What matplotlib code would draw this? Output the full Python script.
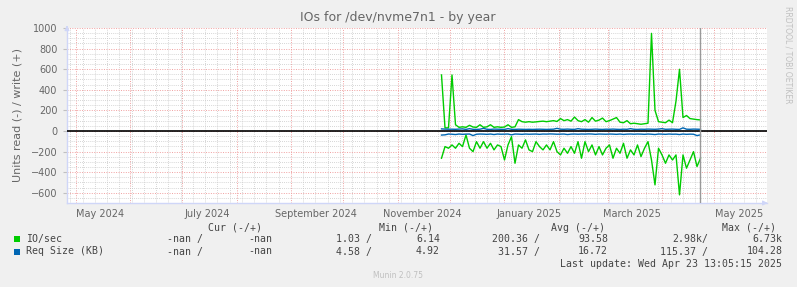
import numpy as np
import pandas as pd
import matplotlib
matplotlib.use('Agg')
import matplotlib.pyplot as plt
import matplotlib.dates as mdates

# munin "by year" graph for /dev/nvme7n1, one sample every 2 days
dates = pd.date_range(start='2024-11-26', periods=75, freq='2D')

io_write = [544, 30, 30, 544, 60, 35, 40, 35, 55, 38, 35, 60, 35, 40, 60, 35, 40, 35, 38,
            60, 35, 40, 110, 90, 85, 90, 85, 88, 92, 95, 90, 95, 100, 92, 120, 100, 110,
            95, 135, 100, 90, 110, 85, 130, 95, 105, 125, 90, 100, 115, 130, 85, 80, 100,
            70, 75, 70, 65, 70, 75, 948, 200, 90, 85, 80, 105, 80, 290, 599, 130, 150, 120,
            115, 110, 107]
io_read = [-265, -152, -168, -136, -168, -120, -152, -39, -168, -201, -104, -168, -104,
           -168, -120, -184, -136, -152, -282, -136, -55, -314, -136, -168, -87, -184, -201,
           -104, -152, -184, -136, -184, -104, -201, -233, -168, -217, -152, -217, -104,
           -265, -104, -201, -136, -233, -152, -233, -168, -136, -265, -168, -217, -120,
           -265, -184, -233, -136, -249, -168, -104, -282, -524, -168, -233, -314, -233,
           -282, -233, -621, -233, -362, -282, -201, -346, -265]
req_write = [20, 18, 17, 17, 16, 18, 20, 15, 22, 16, 15, 17, 25, 16, 15, 18, 17, 16, 15, 22,
             16, 15, 17, 16, 15, 16, 15, 16, 17, 16, 15, 16, 17, 25, 17, 16, 18, 16, 15, 22,
             17, 16, 15, 16, 18, 16, 15, 17, 16, 18, 16, 15, 17, 16, 22, 16, 15, 17, 16, 18,
             17, 16, 18, 22, 16, 17, 18, 16, 15, 30, 17, 16, 18, 17, 16]
req_read = [-40, -38, -30, -32, -35, -30, -33, -31, -30, -45, -32, -30, -31, -33, -30, -35,
            -30, -32, -31, -30, -38, -30, -31, -33, -30, -32, -31, -30, -33, -30, -31, -29,
            -30, -32, -31, -30, -35, -31, -30, -32, -30, -31, -29, -30, -33, -30, -31, -32,
            -30, -31, -33, -30, -34, -31, -30, -32, -30, -31, -33, -30, -32, -35, -30, -31,
            -33, -30, -32, -31, -35, -30, -33, -31, -32, -45, -38]

yticks = [-600, -400, -200, 0, 200, 400, 600, 800, 1000]
month_labels = ['May 2024', 'July 2024', 'September 2024', 'November 2024',
                'January 2025', 'March 2025', 'May 2025']
label_dates = pd.to_datetime(['2024-05-15', '2024-07-15', '2024-09-15', '2024-11-15',
                              '2025-01-15', '2025-03-15', '2025-05-15'])

legend_names = ['IO/sec', 'Req Size (KB)']
legend_cols = ['Cur (-/+)', 'Min (-/+)', 'Avg (-/+)', 'Max (-/+)']
legend_vals = [['-nan /', '-nan', '1.03 /', '6.14', '200.36 /', '93.58', '2.98k/', '6.73k'],
               ['-nan /', '-nan', '4.58 /', '4.92', '31.57 /', '16.72', '115.37 /', '104.28']]

GREEN = '#00CC00'
BLUE = '#0066B3'
FONT = '#666666'
AXIS = '#CFD6F8'

W, H = 797, 287
fig = plt.figure(figsize=(W / 100, H / 100), dpi=100, facecolor='#F0F0F0')
ax = fig.add_axes([67 / W, (H - 203) / H, 700 / W, 175 / H])
ax.set_facecolor('white')

x0 = pd.Timestamp('2024-04-26')
x1 = pd.Timestamp('2025-05-31')
ax.set_xlim(x0, x1)
ax.set_ylim(-700, 1000)

# grid: weekly minor (gray), monthly / 200 major (red)
ax.xaxis.set_major_locator(mdates.MonthLocator())
ax.xaxis.set_minor_locator(mdates.WeekdayLocator(byweekday=mdates.SU))
ax.yaxis.set_major_locator(matplotlib.ticker.FixedLocator(yticks))
ax.yaxis.set_minor_locator(matplotlib.ticker.MultipleLocator(50))
ax.grid(which='minor', color='#C8C8C8', linestyle=(0, (1, 1.5)), linewidth=0.6)
ax.grid(which='major', color='#F0A0A0', linestyle=(0, (1, 1.5)), linewidth=0.7)
ax.set_axisbelow(True)
ax.xaxis.set_major_formatter(matplotlib.ticker.NullFormatter())
ax.tick_params(which='both', length=0)
ax.tick_params(axis='y', which='major', length=3, color='#C0C0C0', labelsize=7,
               labelcolor=FONT, pad=4)

# month labels placed mid-month like rrdtool
for d, lab in zip(label_dates, month_labels):
    ax.text(d, -700, lab, transform=ax.transData, ha='center', va='top',
            fontsize=7, color=FONT, clip_on=False).set_y(-700 - 55)

for s in ['top', 'right']:
    ax.spines[s].set_visible(False)
for s in ['left', 'bottom']:
    ax.spines[s].set_color(AXIS)
    ax.spines[s].set_linewidth(1)

# arrows at the end of the axes
ax.annotate('', xy=(1.005, 0), xytext=(0.99, 0), xycoords='axes fraction',
            arrowprops=dict(arrowstyle='-|>', color=AXIS, lw=0.8, mutation_scale=7),
            annotation_clip=False)
ax.annotate('', xy=(0, 1.03), xytext=(0, 0.99), xycoords='axes fraction',
            arrowprops=dict(arrowstyle='-|>', color=AXIS, lw=0.8, mutation_scale=7),
            annotation_clip=False)

ax.axhline(0, color='black', linewidth=1.2, zorder=3)
ax.plot(dates, io_write, color=GREEN, linewidth=1, zorder=4)
ax.plot(dates, io_read, color=GREEN, linewidth=1, zorder=4)
ax.plot(dates, req_write, color=BLUE, linewidth=1, zorder=5)
ax.plot(dates, req_read, color=BLUE, linewidth=1, zorder=5)
ax.axvline(pd.Timestamp('2025-04-23'), color='#999999', linewidth=1, zorder=6)

ax.set_ylabel('Units read (-) / write (+)', fontsize=8, color=FONT, labelpad=6)

fig.text(398 / W, 1 - 18 / H, 'IOs for /dev/nvme7n1 - by year', ha='center', va='center',
         fontsize=9, color=FONT)
fig.text(788 / W, 1 - 55 / H, 'RRDTOOL / TOBI OETIKER', ha='center', va='center',
         rotation=270, fontsize=5.5, color='#C0C0C0')
fig.text(398 / W, 1 - 276 / H, 'Munin 2.0.75', ha='center', va='center',
         fontsize=5.5, color='#C0C0C0')

# legend, monospace, columns right aligned
mono = dict(family='DejaVu Sans Mono', fontsize=7.1, color='#444444', va='center')
head_x = [262, 433, 605, 776]
for xx, t in zip(head_x, legend_cols):
    fig.text(xx / W, 1 - 227.7 / H, t, ha='right', **mono)
val_x = [203, 272, 372, 440, 540, 608, 708, 782.5]
row_y = [239.3, 251.5]
for name, vals, col, yy in zip(legend_names, legend_vals, [GREEN, BLUE], row_y):
    fig.patches.append(matplotlib.patches.Rectangle((14 / W, 1 - (yy + 3) / H), 6 / W, 6 / H,
                                                    transform=fig.transFigure,
                                                    facecolor=col, edgecolor='none'))
    fig.text(26 / W, 1 - yy / H, name, ha='left', **mono)
    for xx, v in zip(val_x, vals):
        fig.text(xx / W, 1 - yy / H, v, ha='right', **mono)
fig.text(782.5 / W, 1 - 263.7 / H, 'Last update: Wed Apr 23 13:05:15 2025', ha='right', **mono)

fig.savefig('out.png', dpi=100, facecolor=fig.get_facecolor())
